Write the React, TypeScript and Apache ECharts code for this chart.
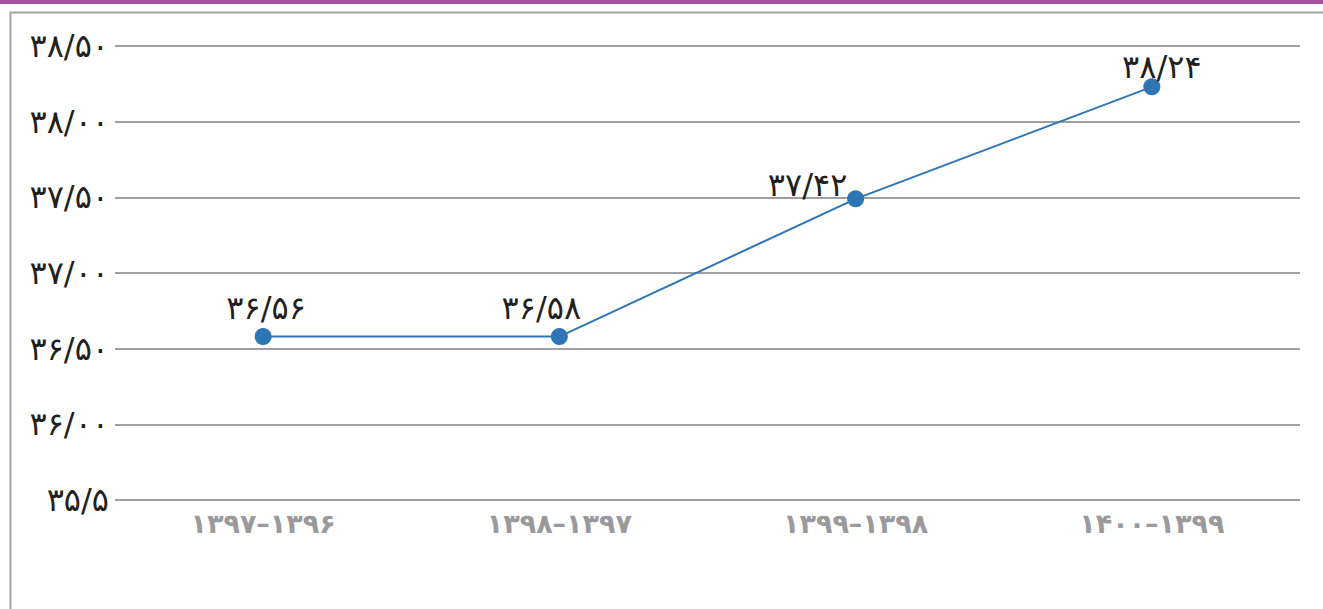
import React, { useEffect, useRef } from "react";
import * as echarts from "echarts";

const categories = ["۱۳۹۷–۱۳۹۶", "۱۳۹۸–۱۳۹۷", "۱۳۹۹–۱۳۹۸", "۱۴۰۰–۱۳۹۹"];
const values = [36.58, 36.58, 37.49, 38.23];
const valueLabels = ["۳۶/۵۶", "۳۶/۵۸", "۳۷/۴۲", "۳۸/۲۴"];
const yTickLabels: Record<string, string> = {
  "35.5": "۳۵/۵",
  "36": "۳۶/۰۰",
  "36.5": "۳۶/۵۰",
  "37": "۳۷/۰۰",
  "37.5": "۳۷/۵۰",
  "38": "۳۸/۰۰",
  "38.5": "۳۸/۵۰",
};

const labelOffsets: [number, number][] = [
  [3, 0],
  [-18, 0],
  [-48, 15],
  [10, 9],
];

export default function App() {
  const ref = useRef<HTMLDivElement>(null);
  useEffect(() => {
    if (!ref.current) return;
    const chart = echarts.init(ref.current, null, { renderer: "svg" });
    const font = "'DejaVu Sans', 'Noto Sans', sans-serif";
    chart.setOption({
      animation: false,
      backgroundColor: "#ffffff",
      graphic: [
        { type: "rect", shape: { x: 0, y: 0, width: 1323, height: 4 }, style: { fill: "#a4509c" } },
        { type: "line", shape: { x1: 10, y1: 12.5, x2: 1323, y2: 12.5 }, style: { stroke: "#a3a3a3", lineWidth: 2 } },
        { type: "line", shape: { x1: 10.5, y1: 12, x2: 10.5, y2: 609 }, style: { stroke: "#a3a3a3", lineWidth: 2 } },
      ],
      grid: { left: 115, right: 23, top: 46, bottom: 109, containLabel: false },
      xAxis: {
        type: "category",
        data: categories,
        boundaryGap: true,
        axisLine: { show: false },
        axisTick: { show: false },
        axisLabel: {
          color: "#9a9a9e",
          fontFamily: font,
          fontSize: 27,
          fontWeight: "bold",
          margin: 10,
        },
        splitLine: { show: false },
      },
      yAxis: {
        type: "value",
        min: 35.5,
        max: 38.5,
        interval: 0.5,
        axisLine: { show: false },
        axisTick: { show: false },
        axisLabel: {
          color: "#231f20",
          fontFamily: font,
          fontSize: 32,
          margin: 6,
          formatter: (v: number) => yTickLabels[String(v)] ?? String(v),
        },
        splitLine: { show: true, lineStyle: { color: "#a0a0a2", width: 2 } },
      },
      series: [
        {
          type: "line",
          data: values.map((v, i) => ({
            value: v,
            label: { offset: labelOffsets[i] },
          })),
          symbol: "circle",
          symbolSize: 17,
          itemStyle: { color: "#2e75b6" },
          lineStyle: { color: "#2e75b6", width: 2 },
          label: {
            show: true,
            position: "top",
            distance: 4,
            color: "#231f20",
            fontFamily: font,
            fontSize: 32,
            formatter: (p: any) => valueLabels[p.dataIndex],
          },
        },
      ],
    });
    return () => chart.dispose();
  }, []);
  return (
    <div
      ref={ref}
      style={{ position: "absolute", left: 0, top: 0, width: 1323, height: 609 }}
    />
  );
}
